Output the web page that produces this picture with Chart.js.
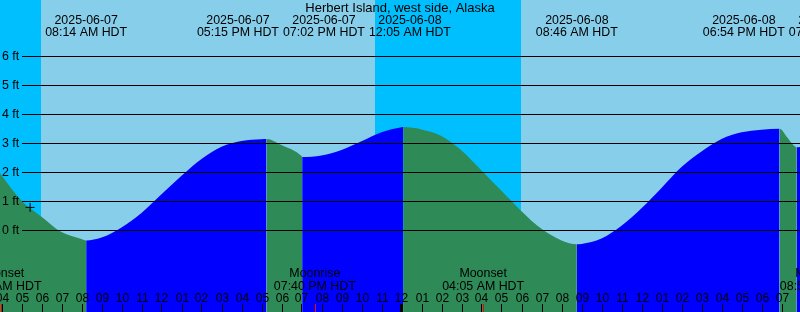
<!DOCTYPE html>
<html>
<head>
<meta charset="utf-8">
<script src="https://cdn.jsdelivr.net/npm/chart.js@4/dist/chart.umd.min.js"></script>
<style>
  body { margin: 0; background: #fff; }
  #tide { display: block; }
</style>
</head>
<body>
<canvas id="tide" width="800" height="312"></canvas>
<script>
// tide graph, Herbert Island west side, 7-8 June 2025.
// hours are counted from 00:00 HDT on 2025-06-07 (so 24 = midnight into the 8th).
const viewStart = 3.925;
const viewEnd = 43.925;

// water level, hourly plus the turning points
const tideHours = [3.925, 4, 5, 6, 7, 8, 8.233, 9, 10, 11, 12, 13, 14, 15, 16, 17, 17.25,
  18, 19, 19.033, 20, 21, 22, 23, 24, 24.083, 25, 26, 27, 28, 29, 30, 31, 32, 32.767,
  33, 34, 35, 36, 37, 38, 39, 40, 41, 42, 42.9, 43.26, 43.59, 43.76, 43.925];
const tideFeet = [1.97, 1.9, 1.02, 0.47, -0.06, -0.3, -0.35, -0.25, 0.1, 0.6, 1.24, 1.88, 2.46, 2.88, 3.08, 3.14, 3.15,
  2.94, 2.56, 2.53, 2.58, 2.77, 3.07, 3.38, 3.55, 3.56, 3.48, 3.25, 2.75, 2.06, 1.36, 0.66, 0.05, -0.35, -0.48,
  -0.47, -0.28, 0.16, 0.76, 1.46, 2.18, 2.72, 3.15, 3.38, 3.47, 3.5, 3.23, 2.94, 2.86, 2.87];

// high / low labels across the top
const eventHours = [8.233, 17.25, 19.033, 24.083, 32.767, 42.9, 43.633];
const eventDates = ["2025-06-07", "2025-06-07", "2025-06-07", "2025-06-08", "2025-06-08", "2025-06-08", "2025-06-08"];
const eventTimes = ["08:14 AM HDT", "05:15 PM HDT", "07:02 PM HDT", "12:05 AM HDT", "08:46 AM HDT", "06:54 PM HDT", "07:38 PM HDT"];

// moon events along the bottom
const moonHours = [3.95, 19.667, 28.083, 44.967];
const moonNames = ["Moonset", "Moonrise", "Moonset", "Moonrise"];
const moonTimes = ["03:57 AM HDT", "07:40 PM HDT", "04:05 AM HDT", "08:58 PM HDT"];

// daylight spans (sunrise, sunset)
const dayStarts = [5.967, 29.967];
const dayEnds = [22.667, 47.0];

const feetTicks = [0, 1, 2, 3, 4, 5, 6];

// the little "+" mark
const markHour = [5.43];
const markFeet = [0.79];

const FONT = '12px "Liberation Sans", Arial, sans-serif';
const LABEL_FONT = '12.4px "Liberation Sans", Arial, sans-serif';
const TITLE_FONT = '13px "Liberation Sans", Arial, sans-serif';
const DAY = "#87ceeb";
const NIGHT = "#00bfff";
const RISING = "#0000ff";
const FALLING = "#2e8b57";

// labels that would collide get grouped and centred on their mean
function spreadLabels(xs, gap) {
  let groups = xs.map((x, i) => ({ ids: [i], mean: x }));
  let merged = true;
  while (merged) {
    merged = false;
    for (let i = 0; i < groups.length - 1; i++) {
      const a = groups[i], b = groups[i + 1];
      const aRight = a.mean + (a.ids.length - 1) * gap / 2;
      const bLeft = b.mean - (b.ids.length - 1) * gap / 2;
      if (bLeft - aRight < gap) {
        const ids = a.ids.concat(b.ids);
        const mean = ids.reduce((s, k) => s + xs[k], 0) / ids.length;
        groups.splice(i, 2, { ids, mean });
        merged = true;
        break;
      }
    }
  }
  const out = [];
  groups.forEach((g) => g.ids.forEach((k, j) => { out[k] = g.mean + (j - (g.ids.length - 1) / 2) * gap; }));
  return out;
}

function hourLabel(h) {
  const hh = ((h % 24) + 24) % 24;
  const t = hh % 12 === 0 ? 12 : hh % 12;
  return String(t).padStart(2, "0");
}

const backdrop = {
  id: "backdrop",
  beforeDatasetsDraw(chart) {
    const { ctx, chartArea: a, scales: { x } } = chart;
    ctx.save();
    ctx.fillStyle = NIGHT;
    ctx.fillRect(a.left, a.top, a.right - a.left, a.bottom - a.top);
    ctx.fillStyle = DAY;
    dayStarts.forEach((s, i) => {
      const x0 = Math.round(x.getPixelForValue(s));
      const x1 = Math.round(x.getPixelForValue(dayEnds[i]));
      ctx.fillRect(x0, a.top, x1 - x0, a.bottom - a.top);
    });
    ctx.restore();
  },
};

const overlay = {
  id: "overlay",
  afterDatasetsDraw(chart) {
    const { ctx, chartArea: a, scales: { x, y } } = chart;
    ctx.save();
    ctx.fillStyle = "#000";
    ctx.strokeStyle = "#000";
    ctx.lineWidth = 1;

    // feet lines + labels
    ctx.font = LABEL_FONT;
    ctx.textAlign = "left";
    ctx.textBaseline = "middle";
    feetTicks.forEach((f) => {
      const py = Math.floor(y.getPixelForValue(f)) + 0.5;
      ctx.beginPath();
      ctx.moveTo(22, py);
      ctx.lineTo(a.right, py);
      ctx.stroke();
      ctx.fillText(f + " ft", 2, py);
    });

    // title
    ctx.textAlign = "center";
    ctx.textBaseline = "alphabetic";
    ctx.font = TITLE_FONT;
    ctx.fillText("Herbert Island, west side, Alaska", 400, 12);

    // high/low labels
    ctx.font = LABEL_FONT;
    const centres = spreadLabels(eventHours.map((h) => x.getPixelForValue(h)), 86);
    centres.forEach((cx, i) => {
      ctx.fillText(eventDates[i], cx, 24);
      ctx.fillText(eventTimes[i], cx, 36);
    });

    // moon labels
    moonHours.forEach((h, i) => {
      const cx = x.getPixelForValue(h);
      ctx.fillText(moonNames[i], cx, 277);
      ctx.fillText(moonTimes[i], cx, 290);
    });

    // hour ticks
    ctx.font = FONT;
    for (let h = Math.ceil(viewStart); h <= Math.floor(viewEnd); h++) {
      const px = Math.round(x.getPixelForValue(h));
      if (h % 24 === 0) {
        ctx.fillRect(px - 1, 304, 3, a.bottom - 304);
      } else {
        ctx.fillRect(px, 304, 1, a.bottom - 304);
      }
      ctx.fillText(hourLabel(h), px + 0.5, 301.5);
    }

    // moon ticks in red
    ctx.fillStyle = "#ff0000";
    moonHours.forEach((h) => {
      const px = Math.round(x.getPixelForValue(h));
      if (px >= a.left && px < a.right) ctx.fillRect(px, 304, 1, a.bottom - 304);
    });
    ctx.restore();
  },
};

new Chart(document.getElementById("tide"), {
  type: "line",
  data: {
    datasets: [
      {
        label: "mark",
        type: "scatter",
        data: markHour.map((h, i) => ({ x: h, y: markFeet[i] })),
        pointStyle: "cross",
        pointRadius: 4.5,
        borderColor: "#000",
        borderWidth: 1,
      },
      {
        label: "Tide",
        data: tideHours.map((h, i) => ({ x: h, y: tideFeet[i] })),
        fill: "start",
        backgroundColor: FALLING,
        borderWidth: 0,
        borderColor: "rgba(0,0,0,0)",
        pointRadius: 0,
        cubicInterpolationMode: "monotone",
        segment: {
          backgroundColor: (c) => (c.p1.parsed.y > c.p0.parsed.y ? RISING : FALLING),
        },
      },
    ],
  },
  options: {
    responsive: false,
    animation: false,
    layout: { padding: 0, autoPadding: false },
    plugins: { legend: { display: false }, tooltip: { enabled: false } },
    scales: {
      x: { type: "linear", min: viewStart, max: viewEnd, display: false },
      y: { min: -2.817, max: 7.941, display: false },
    },
  },
  plugins: [backdrop, overlay],
});
</script>
</body>
</html>
